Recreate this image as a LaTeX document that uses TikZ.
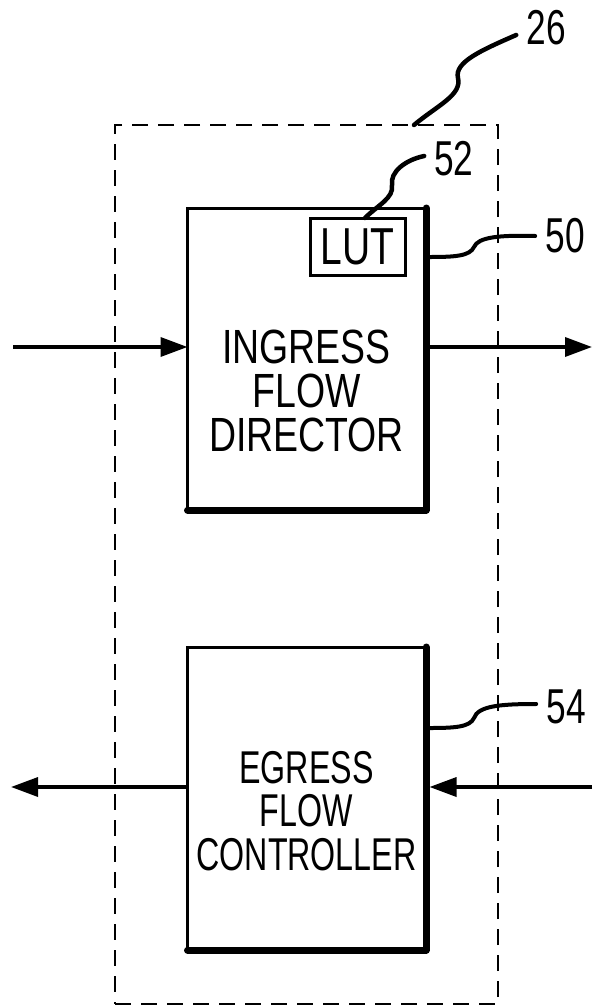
\documentclass[tikz,border=0pt]{standalone}
\usepackage{fontspec}
\usetikzlibrary{arrows.meta}
\newfontfamily\fonttop[FakeStretch=0.78]{Liberation Sans}
\newfontfamily\fontlut[FakeStretch=0.75]{Liberation Sans}
\newfontfamily\fontbot[FakeStretch=0.70]{Liberation Sans}
\newfontfamily\fontnum[FakeStretch=0.72]{Liberation Sans}
\tikzset{
  blockbox/.style={draw, line width=3pt, minimum width=238.5pt, minimum height=302pt, outer sep=0pt, inner sep=0pt},
  heavyedge/.style={line width=7pt, line cap=round, line join=round},
  sysbox/.style={draw, dashed, line width=2.5pt, dash pattern=on 16pt off 10pt, minimum width=383pt, minimum height=879pt, outer sep=0pt, inner sep=0pt},
  lutbox/.style={draw, line width=3pt, minimum width=95pt, minimum height=57pt, outer sep=0pt, inner sep=0pt, font=\fontlut\fontsize{52}{52}\selectfont},
  toptext/.style={anchor=base, inner sep=0pt, text height=35pt, text depth=0pt, font=\fonttop\fontsize{48}{44}\selectfont},
  bottext/.style={anchor=base, inner sep=0pt, text height=33pt, text depth=0pt, font=\fontbot\fontsize{46}{43.5}\selectfont},
  reflabel/.style={inner xsep=10pt, inner ysep=0pt, font=\fontnum\fontsize{49}{49}\selectfont},
  leader/.style={line width=4.5pt, line cap=round},
  flow/.style={line width=3.5pt, -{Triangle[length=27pt,width=19pt]}}
}
\begin{document}
\begin{tikzpicture}[x=1pt,y=-1pt]
\useasboundingbox (0,0) rectangle (592,1007);
% dashed system box
\node[sysbox] (sys) at (306.5,564.5) {};
% blocks
\node[blockbox] (ifd) at (306.75,359) {};
\node[blockbox, minimum height=303pt] (efc) at (306.75,798.5) {};
\draw[heavyedge] (ifd.north east) -- (ifd.south east) -- (ifd.south west);
\draw[heavyedge] (efc.north east) -- (efc.south east) -- (efc.south west);
\node[toptext] (ifd1) at (306.5,363) {INGRESS};
\node[toptext] (ifd2) at (306.5,407) {FLOW};
\node[toptext] (ifd3) at (306.5,451) {DIRECTOR};
\node[bottext] (efc1) at (306.5,783) {EGRESS};
\node[bottext] (efc2) at (306.5,826.5) {FLOW};
\node[bottext] (efc3) at (306.5,870) {CONTROLLER};
\node[lutbox] (lut) at (357.5,246.5) {LUT};
% reference labels
\node[reflabel] (l26) at (546,28) {26};
\node[reflabel] (l52) at (454,159) {52};
\node[reflabel] (l50) at (565,236) {50};
\node[reflabel] (l54) at (566,707) {54};
% leader start points
\coordinate (c26) at (414,125);
\coordinate (c52) at (365,218);
\coordinate (c50) at (430,257);
\coordinate (c54) at (430,728);
\draw[leader] (c26) .. controls (438,105) and (462,95) .. (458,78) .. controls (454,62) and (482,50) .. ([yshift=-7pt]l26.west);
\draw[leader] (c52) .. controls (378,205) and (394,198) .. (392,185) .. controls (390,172) and (405,160) .. ([yshift=3pt]l52.west);
\draw[leader, line width=4pt] (c50) .. controls (455,257) and (470,256) .. (474,247) .. controls (478,237) and (500,235) .. (l50.west);
\draw[leader, line width=4pt] (c54) .. controls (455,728) and (470,727) .. (474,718) .. controls (478,706) and (500,704) .. ([yshift=3pt]l54.west);
% flow arrows
\coordinate (inL) at (13,347);
\coordinate (outR) at (592,347);
\coordinate (outL) at (11,787);
\coordinate (inR) at (592,787);
\draw[flow] (inL) -- (inL -| ifd.west);
\draw[flow] (ifd.east |- outR) -- (outR);
\draw[flow] (efc.west |- outL) -- (outL);
\draw[flow] (inR) -- ([xshift=3.5pt]efc.east |- inR);
\end{tikzpicture}
\end{document}
